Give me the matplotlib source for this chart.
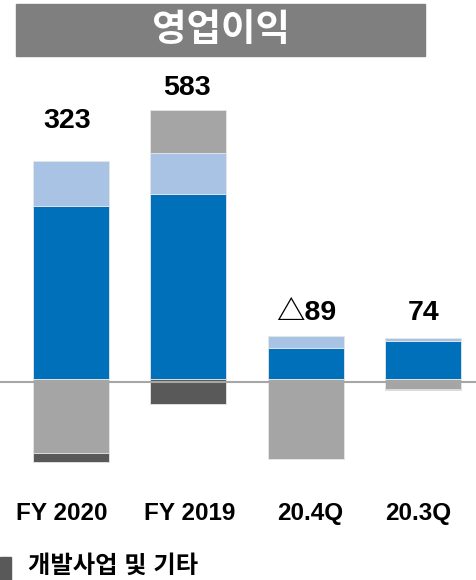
import numpy as np
import matplotlib
matplotlib.use("Agg")
import matplotlib.pyplot as plt
from matplotlib.patches import Rectangle

plt.rcParams['font.family'] = ['Liberation Sans', 'Noto Sans CJK KR', 'DejaVu Sans']

# 데이터 (억원)
categories = ["FY 2020", "FY 2019", "20.4Q", "20.3Q"]
totals = ["323", "583", "△89", "74"]
blue = [413, 442, 74, 92]
light_blue = [108, 98, 29, 7]
gray = [-177, 103, -190, -24]
dark = [-21, -60, -2, -1]
label_y = [617, 695, 158, 158]
label_dx = [-0.03, -0.01, 0.0, 0.0]
cat_dx = [-0.077, 0.01, 0.04, -0.047]

series = [blue, light_blue, gray, dark]
colors = ["#0070BA", "#A9C3E5", "#A5A5A5", "#595959"]

fig = plt.figure(figsize=(4.76, 5.80), dpi=100)
ax = fig.add_axes([0, 0.1724, 1, 0.7241])

x = np.arange(len(categories))
pos_base = np.zeros(len(categories))
neg_base = np.zeros(len(categories))
for vals, col in zip(series, colors):
    vals = np.array(vals, dtype=float)
    base = np.where(vals >= 0, pos_base, neg_base)
    ax.bar(x, vals, bottom=base, width=0.647, color=col,
           edgecolor="#E6E6E6", linewidth=0.6, zorder=2)
    pos_base += np.where(vals >= 0, vals, 0)
    neg_base += np.where(vals < 0, vals, 0)

ax.axhline(-7, color="#A6A6A6", linewidth=1.5, zorder=3)

for xi, t, ly, dx in zip(x, totals, label_y, label_dx):
    ax.text(xi + dx, ly, t, ha="center", va="center", fontsize=20.5, fontweight="bold")

ax.set_xlim(-0.604, 3.447)
ax.set_ylim(-241, 762)
ax.axis("off")

# 카테고리 라벨
for xi, c, dx in zip(x, categories, cat_dx):
    ax.text(xi + dx, -(513 - 379) * 2.39, c, ha="center", va="center",
            fontsize=17.5, fontweight="bold")

# 제목 상자
fig.patches.append(Rectangle((16 / 476, 1 - 56 / 580), 409 / 476, 52 / 580,
                             transform=fig.transFigure, color="#7F7F7F", zorder=0))
fig.text(221 / 476, 1 - 31 / 580, "영업이익", ha="center", va="center",
         color="white", fontsize=27, fontweight="bold")

# 범례 (일부)
fig.patches.append(Rectangle((0, 0), 11 / 476, 23 / 580,
                             transform=fig.transFigure, color="#595959"))
fig.text(28 / 476, 1 - 566 / 580, "개발사업 및 기타", ha="left", va="center",
         fontsize=17.5, fontweight="bold")

plt.savefig("out.png", dpi=100)
